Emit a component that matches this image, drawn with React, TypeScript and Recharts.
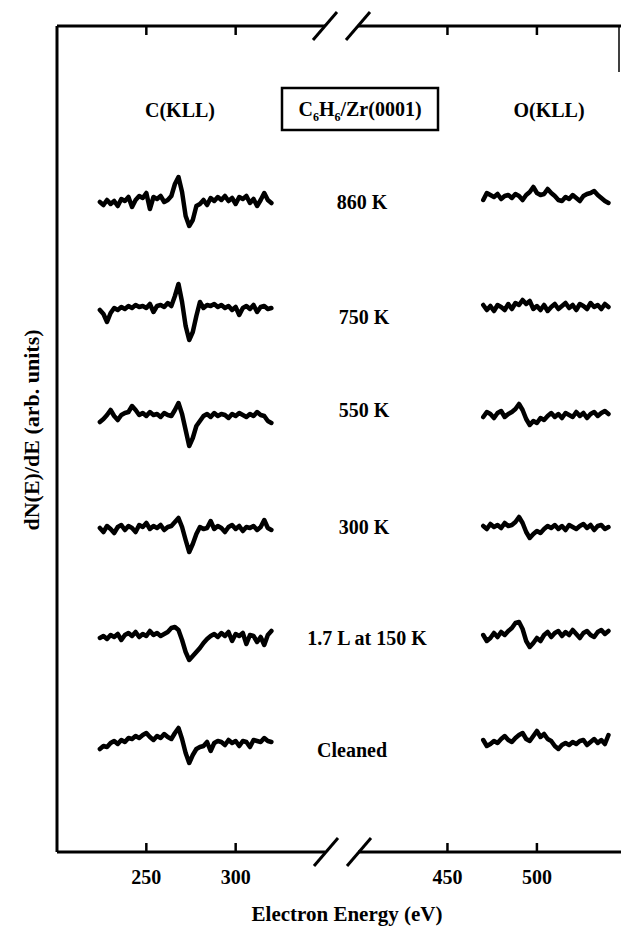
import React from "react";
import { LineChart, Line, XAxis, YAxis } from "recharts";

// energies (eV) of the sampled points
const C_ENERGY = [
  224, 226, 228, 230, 232, 234, 236, 238, 240, 242, 244, 246, 248, 250, 252,
  254, 256, 258, 260, 262, 264, 266, 268, 270, 272, 274, 276, 278, 280, 282,
  284, 286, 288, 290, 292, 294, 296, 298, 300, 302, 304, 306, 308, 310, 312,
  314, 316, 318, 320,
];
const O_ENERGY = [
  470, 472, 474, 476, 478, 480, 482, 484, 486, 488, 490, 492, 494, 496, 498,
  500, 502, 504, 506, 508, 510, 512, 514, 516, 518, 520, 522, 524, 526, 528,
  530, 532, 534, 536, 538, 540,
];

const ROW_LABELS = ["860 K", "750 K", "550 K", "300 K", "1.7 L at 150 K", "Cleaned"];

// vertical offset of each spectrum (arb. units)
const C_OFFSETS = [650, 542, 434, 322, 214, 109];
const O_OFFSETS = [655, 545, 437, 325, 217, 110];

const C_860 = [0, -3, 2, -2, 1, -4, 3, 1, 5, -5, 2, 6, 4, 9, -7, 5, 3, 6, 0, 2, 6, 18, 25, 10, -14, -24, -18, -4, -2, 2, -3, 4, 1, 5, 2, 6, 1, 4, -2, 5, 3, 6, -1, 3, -4, 2, 9, 2, -1];
const C_750 = [0, -4, -12, -3, 2, 0, 3, 1, 4, 2, 5, 3, 4, 2, 6, -2, 4, 5, 3, 7, 4, 14, 26, 8, -16, -30, -22, -6, 8, 2, 5, 4, 6, 3, 5, 2, 4, 0, 3, -5, 2, 4, 1, 5, -2, 3, 4, 1, 2];
const C_550 = [-4, -1, 3, 8, 2, -2, 3, 5, 6, 12, 8, 3, 5, 2, 6, 3, 4, 1, 5, 3, 2, 8, 15, 4, -12, -28, -20, -8, -3, 2, 4, 1, 5, 2, 4, 3, 0, 4, 2, 5, 3, 1, 4, 2, 6, 3, 2, -3, -5];
const C_300 = [2, -2, 4, 1, -3, 3, 5, 0, 4, 2, -2, 5, 3, 7, 1, 4, 2, 5, 0, 3, 4, 8, 12, 3, -10, -22, -14, -4, 3, 1, 2, 9, 1, 4, 2, -2, 3, 5, 1, 4, -1, 3, 2, 4, 0, 3, 10, 2, 0];
const C_150 = [0, 2, -1, 3, 1, 4, -2, 3, 5, 2, 6, 1, 4, 2, 7, 3, 5, 2, 4, 6, 10, 11, 8, -2, -14, -22, -18, -14, -10, -5, -1, 2, 4, 1, 5, 2, 6, -3, 4, 2, 5, -6, 3, 2, -4, 1, -7, 3, 7];
const C_CLEAN = [-6, -3, -4, 0, 2, -1, 3, 1, 5, 4, 7, 5, 8, 10, 6, 3, 7, 5, 9, 6, 4, 10, 15, 4, -10, -20, -12, -6, -4, -3, 1, -8, 0, 2, 1, -2, 3, 0, 2, -3, 2, 1, -4, 3, 2, 1, 5, 2, 1];

const O_860 = [-3, 4, 2, 0, 3, -2, 1, 2, -1, 3, 1, -3, 2, 5, 10, 4, 2, 3, 8, 4, 1, -3, -4, 0, -2, 2, -1, -4, 1, 3, 4, 6, 2, -1, -4, -6];
const O_750 = [2, -3, 1, -4, 2, 0, -3, 3, -2, 4, 2, 7, 3, 6, -2, 1, -3, 2, -4, 0, 3, -2, 1, 4, -1, 2, -3, 3, 1, -2, 4, 0, 2, -2, 3, 0];
const O_550 = [-2, 3, 1, -3, 2, 4, -2, 1, 3, 6, 11, 5, -4, -10, -6, -8, -3, -5, -1, 2, -2, 1, -3, 2, 0, -2, 3, -1, 2, -3, 1, 3, -1, 2, 4, 1];
const O_300 = [1, -2, 3, 0, 2, -1, 4, 1, 2, 5, 10, 4, -5, -11, -7, -4, -6, -2, 1, -1, 2, -2, 1, -3, 2, 0, -2, 1, 3, -1, 2, -3, 1, 2, -2, 0];
const O_150 = [0, -6, -3, 2, -2, 3, 0, 4, 7, 12, 13, 6, -6, -12, -8, -3, -6, 0, 3, -2, 2, 4, -1, 3, 0, 5, 1, -3, 2, 4, 0, -2, 3, 5, 1, 4];
const O_CLEAN = [2, -4, -2, 1, -1, 3, 6, 2, 0, 4, 7, 9, 3, 1, 6, 11, 5, 8, 3, 1, -4, -7, -3, -1, -3, 0, -2, 1, 2, -3, 0, 3, -1, 2, -2, 7];

const C_SERIES = [C_860, C_750, C_550, C_300, C_150, C_CLEAN];
const O_SERIES = [O_860, O_750, O_550, O_300, O_150, O_CLEAN];

const C_TICKS = [250, 300];
const O_TICKS = [450, 500];

const FONT = "'Liberation Serif', 'Times New Roman', serif";
const AXIS = { stroke: "#000", strokeWidth: 3 };

const build = (energy: number[], vals: number[], off: number) =>
  energy.map((e, i) => ({ e, v: off + vals[i] }));

const BottomTick = (props: any) => {
  const { x, y, payload } = props;
  return (
    <g>
      <line x1={x} y1={y} x2={x} y2={y - 9} stroke="#000" strokeWidth={2.5} />
      <text x={x} y={y + 32} textAnchor="middle" fontFamily={FONT} fontWeight="bold" fontSize={20} fill="#000">
        {payload.value}
      </text>
    </g>
  );
};

const TopTick = (props: any) => {
  const { x, y } = props;
  return <line x1={x} y1={y} x2={x} y2={y + 9} stroke="#000" strokeWidth={2.5} />;
};

function Panel({
  width,
  margin,
  domain,
  ticks,
  energy,
  series,
  offsets,
  side,
}: {
  width: number;
  margin: { top: number; right: number; bottom: number; left: number };
  domain: [number, number];
  ticks: number[];
  energy: number[];
  series: number[][];
  offsets: number[];
  side: "left" | "right";
}) {
  return (
    <LineChart width={width} height={926} margin={margin}>
      <XAxis
        xAxisId="b"
        type="number"
        dataKey="e"
        domain={domain}
        ticks={ticks}
        allowDataOverflow
        axisLine={AXIS}
        tickLine={false}
        tickSize={0}
        tickMargin={0}
        height={40}
        tick={<BottomTick />}
      />
      <XAxis
        xAxisId="t"
        orientation="top"
        type="number"
        dataKey="e"
        domain={domain}
        ticks={ticks}
        allowDataOverflow
        axisLine={AXIS}
        tickLine={false}
        tickSize={0}
        tickMargin={0}
        height={1}
        tick={<TopTick />}
      />
      <YAxis
        orientation={side}
        type="number"
        domain={[0, 826]}
        width={1}
        tick={false}
        tickLine={false}
        axisLine={side === "left" ? AXIS : false}
      />
      {series.map((vals, i) => (
        <Line
          key={i}
          xAxisId="b"
          data={build(energy, vals, offsets[i])}
          dataKey="v"
          type="linear"
          stroke="#000"
          strokeWidth={4.5}
          strokeLinejoin="round"
          strokeLinecap="round"
          dot={false}
          isAnimationActive={false}
        />
      ))}
    </LineChart>
  );
}

const label = (txt: string, x: number, y: number, size = 20) => (
  <text x={x} y={y} textAnchor="middle" fontFamily={FONT} fontWeight="bold" fontSize={size} fill="#000">
    {txt}
  </text>
);

const ROW_POS = [
  [362, 209],
  [364, 324],
  [364, 417],
  [364, 534],
  [367, 645],
  [352, 757],
];

export default function App() {
  return (
    <div style={{ position: "absolute", left: 0, top: 0, width: 622, height: 926, background: "#fff" }}>
      <div style={{ position: "absolute", left: 0, top: 0 }}>
        <Panel
          width={330}
          margin={{ top: 25, right: 5, bottom: 34, left: 56 }}
          domain={[200, 350]}
          ticks={C_TICKS}
          energy={C_ENERGY}
          series={C_SERIES}
          offsets={C_OFFSETS}
          side="left"
        />
      </div>
      <div style={{ position: "absolute", left: 340, top: 0 }}>
        <Panel
          width={282}
          margin={{ top: 25, right: 0, bottom: 34, left: 18 }}
          domain={[400, 547]}
          ticks={O_TICKS}
          energy={O_ENERGY}
          series={O_SERIES}
          offsets={O_OFFSETS}
          side="right"
        />
      </div>
      <svg width={622} height={926} style={{ position: "absolute", left: 0, top: 0, pointerEvents: "none" }}>
        {/* axis breaks and the cropped right edge */}
        <g stroke="#000" strokeWidth={3}>
          <line x1={313} y1={40} x2={337} y2={12} />
          <line x1={346} y1={40} x2={370} y2={12} />
          <line x1={314} y1={866} x2={338} y2={838} />
          <line x1={347} y1={866} x2={371} y2={838} />
        </g>
        <line x1={619} y1={25} x2={619} y2={72} stroke="#000" strokeWidth={1.5} />
        <text
          transform="translate(31 430) rotate(-90)"
          textAnchor="middle"
          dominantBaseline="central"
          fontFamily={FONT}
          fontWeight="bold"
          fontSize={22}
          fill="#000"
        >
          dN(E)/dE (arb. units)
        </text>
        {label("Electron Energy (eV)", 347, 921, 21)}
        {label("C(KLL)", 180, 117)}
        {label("O(KLL)", 549, 117)}
        <rect x={282} y={88} width={156} height={42} fill="none" stroke="#000" strokeWidth={2.5} />
        <text x={360} y={116} textAnchor="middle" fontFamily={FONT} fontWeight="bold" fontSize={20} fill="#000">
          C<tspan fontSize={12} dy={5}>6</tspan>
          <tspan dy={-5}>H</tspan>
          <tspan fontSize={12} dy={5}>6</tspan>
          <tspan dy={-5}>/Zr(0001)</tspan>
        </text>
        {ROW_LABELS.map((t, i) => (
          <React.Fragment key={t}>{label(t, ROW_POS[i][0], ROW_POS[i][1])}</React.Fragment>
        ))}
      </svg>
    </div>
  );
}
